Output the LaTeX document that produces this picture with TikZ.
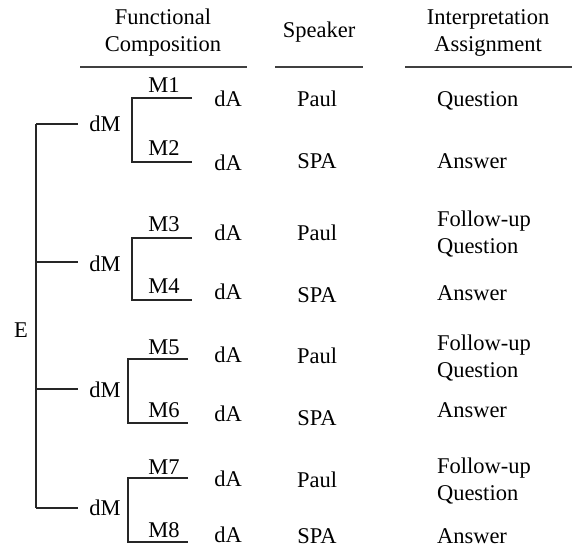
\documentclass[tikz,border=0pt]{standalone}
\usepackage{fontspec}
\setmainfont{Liberation Serif}
\begin{document}
\begin{tikzpicture}[x=1pt,y=-1pt,
  every node/.style={inner sep=0pt,outer sep=0pt,font=\fontsize{22.5}{27}\selectfont},
  lbl/.style={anchor=base},
  lft/.style={anchor=base west,align=left},
  hdr/.style={anchor=base,align=center},
  rule/.style={line width=1.1pt,black!75},
  tree/.style={line width=1.1pt,black!85}]
\useasboundingbox (0,0) rectangle (572,548);
% headers (anchor = baseline of last line)
\node[hdr] (h1) at (163,52) {Functional\\Composition};
\node[lbl] (h2) at (319,38) {Speaker};
\node[hdr] (h3) at (488,52) {Interpretation\\Assignment};
\coordinate (r1a) at (80,67); \coordinate (r1b) at (247,67);
\coordinate (r2a) at (275,67); \coordinate (r2b) at (363,67);
\coordinate (r3a) at (405,67); \coordinate (r3b) at (572,67);
\draw[rule] (r1a) -- (r1b);
\draw[rule] (r2a) -- (r2b);
\draw[rule] (r3a) -- (r3b);
% root
\node[lbl] (E) at (21,337) {E};
\coordinate (Etop) at (36,124);
\coordinate (Ebot) at (36,508);
\draw[tree] (Etop) -- (Ebot);
% dM nodes
\node[lbl] (dM1) at (105,132) {dM};
\node[lbl] (dM2) at (105,271) {dM};
\node[lbl] (dM3) at (105,397) {dM};
\node[lbl] (dM4) at (105,515) {dM};
\foreach \i/\y in {1/124,2/262,3/389,4/508}{
  \coordinate (b\i) at (36,\y);
  \coordinate (be\i) at (78,\y);
  \draw[tree] (b\i) -- (be\i);
}
% brackets
\foreach \g/\x/\t/\b/\e in {1/132/98/162/192,2/132/238/300/192,3/128/359/423/188,4/128/478/542/188}{
  \coordinate (ut\g) at (\e,\t);
  \coordinate (kt\g) at (\x,\t);
  \coordinate (kb\g) at (\x,\b);
  \coordinate (ub\g) at (\e,\b);
  \draw[tree] (ut\g) -- (kt\g) -- (kb\g) -- (ub\g);
}
% M labels
\node[lbl] (M1) at (164,93) {M1};
\node[lbl] (M2) at (164,156) {M2};
\node[lbl] (M3) at (164,231) {M3};
\node[lbl] (M4) at (164,293) {M4};
\node[lbl] (M5) at (164,354) {M5};
\node[lbl] (M6) at (164,417) {M6};
\node[lbl] (M7) at (164,474) {M7};
\node[lbl] (M8) at (164,537) {M8};
% dA
\node[lbl] (dA1) at (228,107) {dA};
\node[lbl] (dA2) at (228,171) {dA};
\node[lbl] (dA3) at (228,240) {dA};
\node[lbl] (dA4) at (228,299) {dA};
\node[lbl] (dA5) at (228,362) {dA};
\node[lbl] (dA6) at (228,421) {dA};
\node[lbl] (dA7) at (228,486) {dA};
\node[lbl] (dA8) at (228,542) {dA};
% speakers
\node[lbl] (s1) at (317,107) {Paul};
\node[lbl] (s2) at (317,168) {SPA};
\node[lbl] (s3) at (317,240) {Paul};
\node[lbl] (s4) at (317,302) {SPA};
\node[lbl] (s5) at (317,363) {Paul};
\node[lbl] (s6) at (317,425) {SPA};
\node[lbl] (s7) at (317,487) {Paul};
\node[lbl] (s8) at (317,543) {SPA};
% interpretations
\node[lft] (i1) at (437,107) {Question};
\node[lft] (i2) at (437,168) {Answer};
\node[lft] (i3) at (437,253) {Follow-up\\Question};
\node[lft] (i4) at (437,300) {Answer};
\node[lft] (i5) at (437,377) {Follow-up\\Question};
\node[lft] (i6) at (437,417) {Answer};
\node[lft] (i7) at (437,500) {Follow-up\\Question};
\node[lft] (i8) at (437,543) {Answer};
\end{tikzpicture}
\end{document}
